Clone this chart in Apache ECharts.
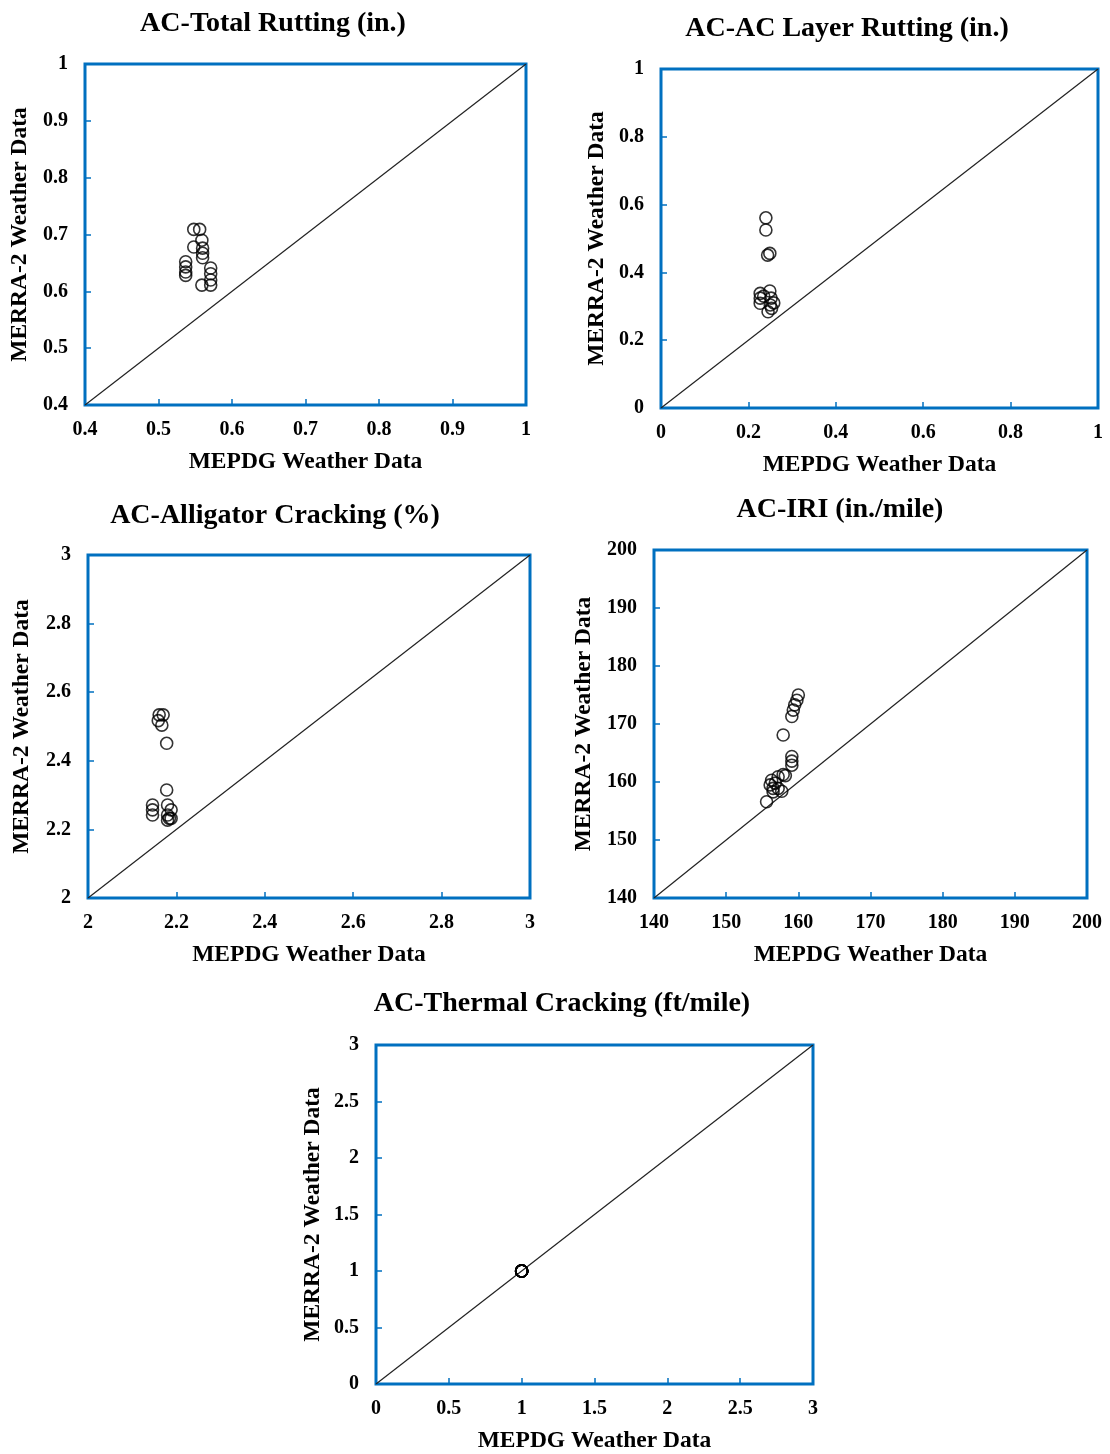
<!DOCTYPE html>
<html><head><meta charset="utf-8">
<script src="https://cdn.jsdelivr.net/npm/echarts@6/dist/echarts.min.js"></script>
<style>html,body{margin:0;padding:0;background:#fff}#c{width:1110px;height:1454px}</style>
</head><body><div id="c"></div>
<script>
// Panel titles
const titles = ["AC-Total Rutting (in.)", "AC-AC Layer Rutting (in.)", "AC-Alligator Cracking (%)", "AC-IRI (in./mile)", "AC-Thermal Cracking (ft/mile)"];
const xName = "MEPDG Weather Data";
const yName = "MERRA-2 Weather Data";
// Axis ranges [min, max, interval]
const ranges = [[0.4, 1, 0.1], [0, 1, 0.2], [2, 3, 0.2], [140, 200, 10], [0, 3, 0.5]];

// Data: MEPDG (x) vs MERRA-2 (y)
const totalRutX = [0.548, 0.556, 0.559, 0.548, 0.56, 0.56, 0.56, 0.537, 0.537, 0.537, 0.537, 0.571, 0.571, 0.571, 0.559, 0.571];
const totalRutY = [0.709, 0.709, 0.690, 0.678, 0.676, 0.667, 0.659, 0.652, 0.643, 0.634, 0.628, 0.641, 0.631, 0.620, 0.611, 0.611];

const acRutX = [0.240, 0.240, 0.244, 0.249, 0.227, 0.227, 0.227, 0.249, 0.252, 0.250, 0.253, 0.245, 0.235, 0.258];
const acRutY = [0.561, 0.525, 0.451, 0.456, 0.338, 0.324, 0.309, 0.345, 0.324, 0.304, 0.294, 0.284, 0.330, 0.310];

const alligX = [2.161, 2.170, 2.159, 2.167, 2.178, 2.178, 2.146, 2.146, 2.146, 2.180, 2.188, 2.180, 2.184, 2.180, 2.188];
const alligY = [2.534, 2.534, 2.517, 2.504, 2.451, 2.315, 2.271, 2.257, 2.242, 2.271, 2.257, 2.242, 2.232, 2.227, 2.232];

const iriX = [160.0, 159.8, 159.5, 159.3, 159.1, 157.9, 159.1, 159.1, 159.1, 157.9, 157.2, 158.2, 156.3, 156.8, 156.1, 156.5, 157.2, 156.5, 157.7, 155.6];
const iriY = [175.0, 174.1, 173.3, 172.4, 171.3, 168.1, 164.4, 163.6, 162.9, 161.3, 160.9, 161.1, 160.3, 159.8, 159.5, 158.9, 158.9, 158.3, 158.4, 156.6];

const thermX = [1, 1, 1, 1, 1, 1, 1, 1, 1, 1, 1, 1, 1, 1, 1];
const thermY = [1, 1, 1, 1, 1, 1, 1, 1, 1, 1, 1, 1, 1, 1, 1];

const dataX = [totalRutX, acRutX, alligX, iriX, thermX];
const dataY = [totalRutY, acRutY, alligY, iriY, thermY];

// layout
const grids = [
  {left: 85, top: 64, width: 441, height: 341},
  {left: 661, top: 69, width: 437, height: 339},
  {left: 88, top: 555, width: 442, height: 343},
  {left: 654, top: 550, width: 433, height: 348},
  {left: 376, top: 1045, width: 437, height: 339}
];
const titlePos = [[268, 5], [842, 10], [270, 497], [835, 491], [557, 985]];
const yNameGap = [53, 52, 54, 58, 51];
const font = "'Liberation Serif', 'DejaVu Serif', serif";
const blue = '#0070C0';

const option = {
  animation: false,
  backgroundColor: '#fff',
  title: titles.map((t, i) => ({
    text: t, left: titlePos[i][0], top: titlePos[i][1], textAlign: 'center',
    textStyle: {fontFamily: font, fontSize: 28, fontWeight: 'bold', color: '#000'}
  })),
  grid: grids.map(g => Object.assign({show: true, borderColor: blue, borderWidth: 3, backgroundColor: 'transparent'}, g)),
  xAxis: ranges.map((r, i) => ({
    type: 'value', gridIndex: i, min: r[0], max: r[1], interval: r[2],
    name: xName, nameLocation: 'middle', nameGap: 45,
    nameTextStyle: {fontFamily: font, fontSize: 23.5, fontWeight: 'bold', color: '#000'},
    axisLine: {show: false}, splitLine: {show: false},
    axisTick: {show: true, inside: true, length: 6, lineStyle: {color: blue, width: 1.5}},
    axisLabel: {fontFamily: font, fontSize: 20, fontWeight: 'bold', color: '#000', margin: 15}
  })),
  yAxis: ranges.map((r, i) => ({
    type: 'value', gridIndex: i, min: r[0], max: r[1], interval: r[2],
    name: yName, nameLocation: 'middle', nameGap: yNameGap[i], nameRotate: 90,
    nameTextStyle: {fontFamily: font, fontSize: 23.5, fontWeight: 'bold', color: '#000'},
    axisLine: {show: false}, splitLine: {show: false},
    axisTick: {show: true, inside: true, length: 6, lineStyle: {color: blue, width: 1.5}},
    axisLabel: {fontFamily: font, fontSize: 20, fontWeight: 'bold', color: '#000', margin: 17}
  })),
  series: []
};
ranges.forEach((r, i) => {
  option.series.push({
    type: 'line', xAxisIndex: i, yAxisIndex: i, data: [[r[0], r[0]], [r[1], r[1]]],
    symbol: 'none', lineStyle: {color: '#222', width: 1.2}, z: 2
  });
  option.series.push({
    type: 'scatter', xAxisIndex: i, yAxisIndex: i,
    data: dataX[i].map((x, k) => [x, dataY[i][k]]),
    symbol: 'circle', symbolSize: 12,
    itemStyle: {color: 'rgba(0,0,0,0)', borderColor: '#000', borderWidth: 1.6}, z: 3
  });
});
const chart = echarts.init(document.getElementById('c'), null, {renderer: 'canvas'});
chart.setOption(option);
</script>
</body></html>
